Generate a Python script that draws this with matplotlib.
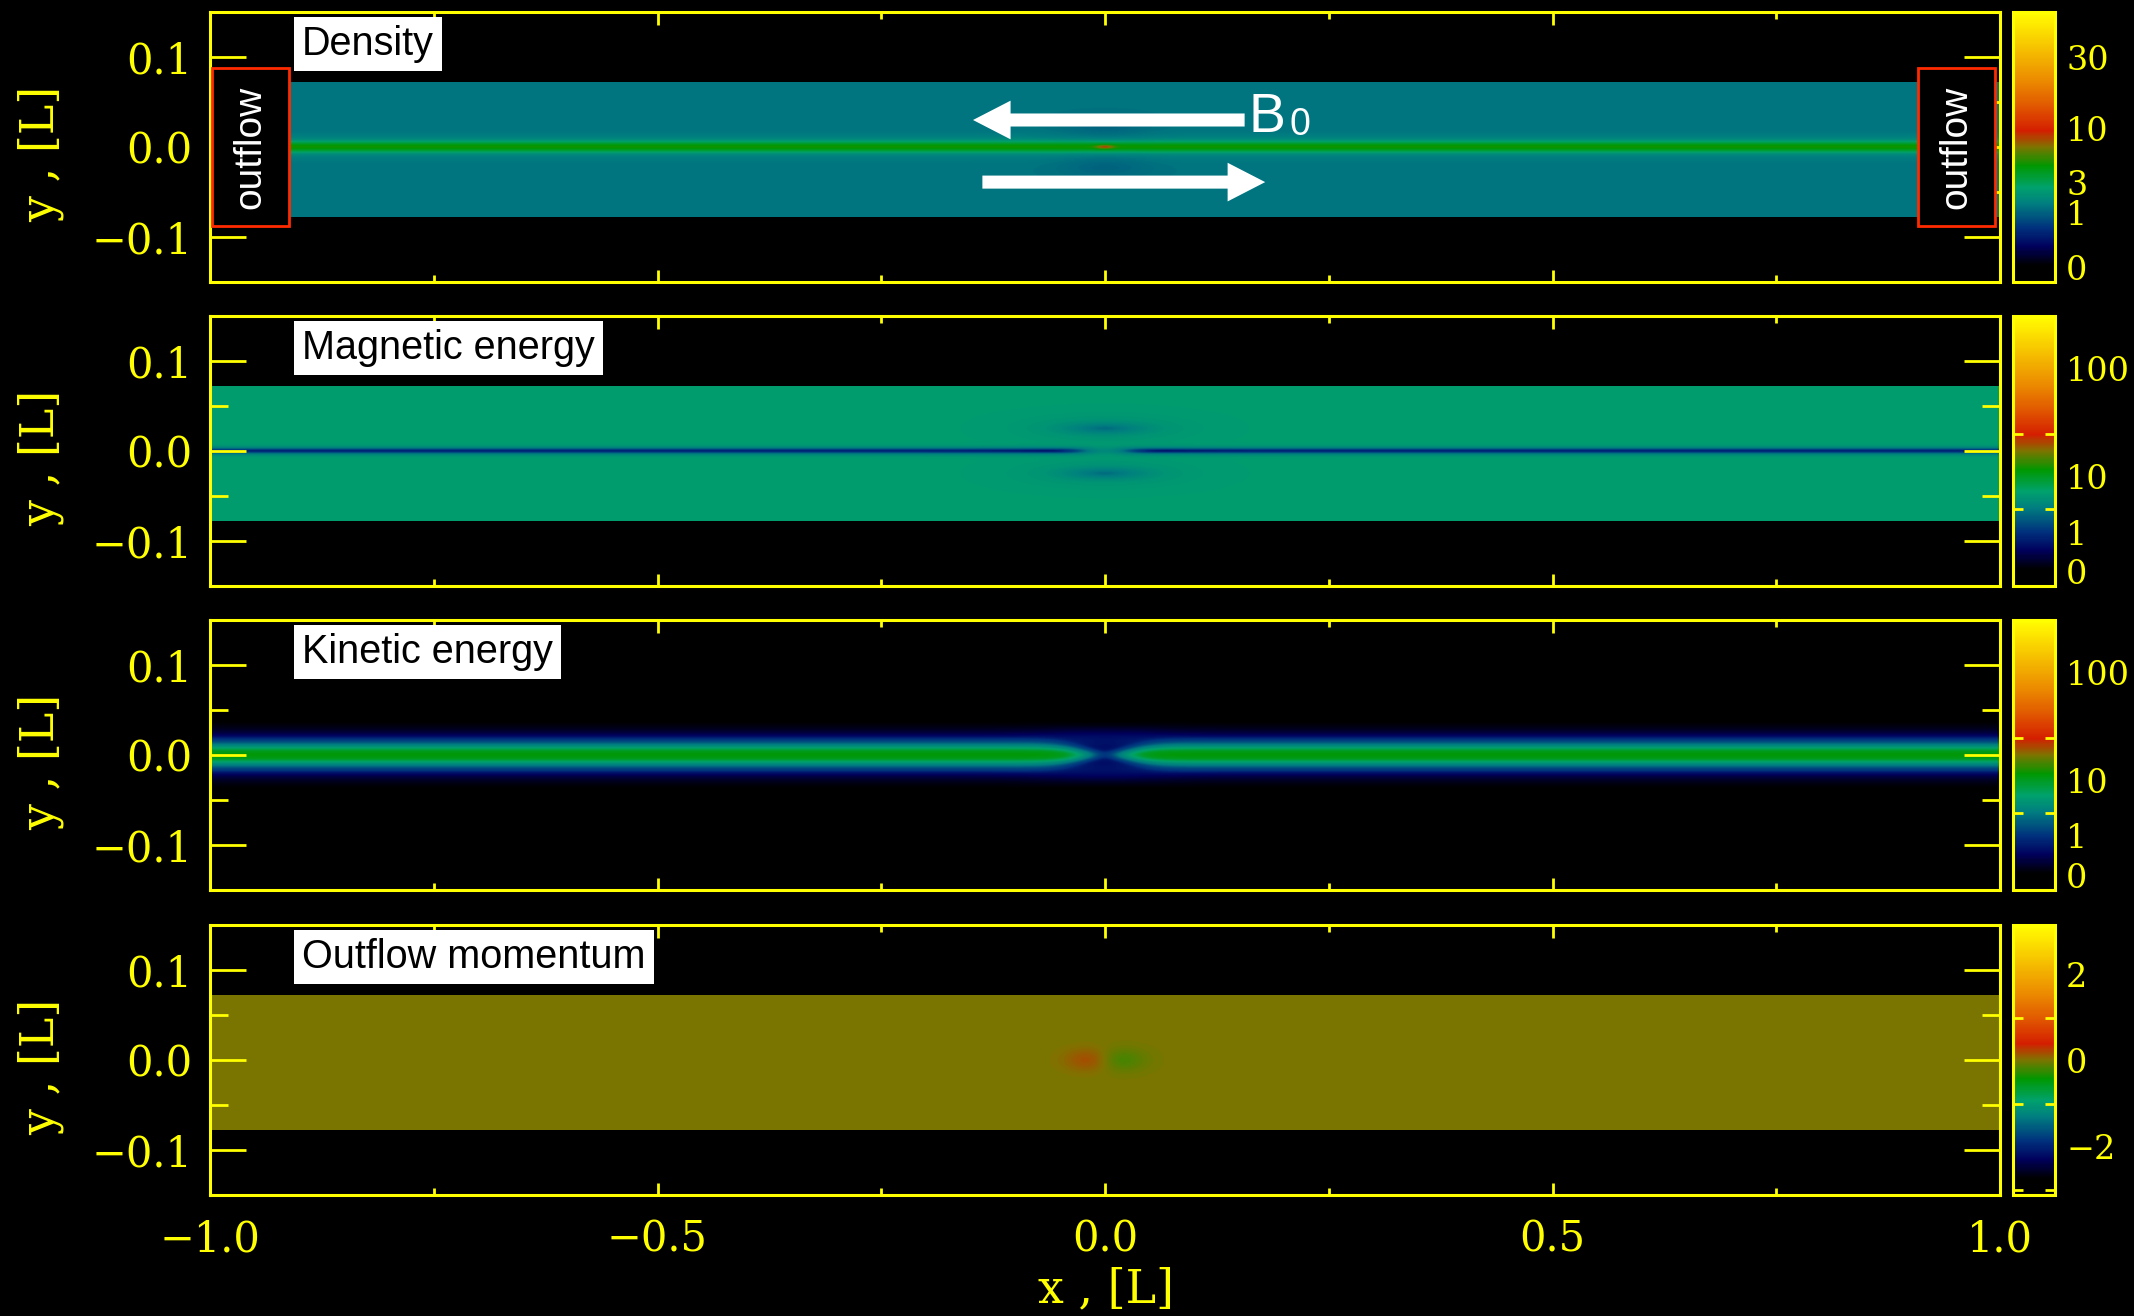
import numpy as np
import matplotlib
matplotlib.use("Agg")
import matplotlib.pyplot as plt
from matplotlib.colors import LinearSegmentedColormap, FuncNorm, Normalize
from matplotlib.patches import Rectangle, FancyArrow
from matplotlib.ticker import FuncFormatter

plt.rcParams["font.family"] = ["DejaVu Serif"]
YELLOW = "#ffff00"
LABEL_FONT = ["Liberation Sans", "DejaVu Sans"]

# ---- colour table (position along bar, RGB) ----
ctab_pos = [0.0, 0.06, 0.13, 0.20, 0.29, 0.35, 0.43, 0.50, 0.56, 0.66, 0.75, 0.82, 0.97, 1.0]
ctab_rgb = [(0, 0, 0), (0, 0, 0), (0, 0, 92), (0, 50, 125), (0, 126, 128), (0, 162, 108),
            (0, 152, 0), (126, 116, 0), (212, 30, 0), (226, 92, 0), (236, 140, 0),
            (242, 172, 0), (255, 240, 0), (255, 255, 0)]

# ---- colour-bar scales: value -> fraction of the bar ----
dens_levels = [-0.25, 0.0, 1.0, 3.0, 10.0, 30.0, 62.0]
dens_frac = [0.0, 0.052, 0.259, 0.37, 0.567, 0.83, 1.0]
ener_levels = [-0.25, 0.0, 1.0, 3.0, 10.0, 30.0, 100.0, 260.0]
ener_frac = [0.0, 0.052, 0.20, 0.284, 0.405, 0.562, 0.805, 1.0]
mom_range = (-3.12, 3.15)

dens_labels = [30, 10, 3, 1, 0]
dens_ticks = [30, 10, 3, 1]
ener_labels = [100, 10, 1, 0]
ener_ticks = [100, 30, 10, 3, 1]
mom_labels = [2, 0, -2]
mom_ticks = [2, 1, 0, -1, -2, -3]

panel_titles = ["Density", "Magnetic energy", "Kinetic energy", "Outflow momentum"]

# ---- simulation box ----
x_domain = (-1.0, 1.0)
y_domain = (-0.078, 0.072)

# current-sheet structure (levels in colour-bar units)
rho_background, rho_sheet, rho_sheet_w, rho_glow, rho_glow_w = 1.35, 3.4, 0.0035, 0.7, 0.008
rho_xpoint, rho_void = 3.5, -0.35
mag_background, mag_dip, mag_dip_w = 6.3, 5.5, 0.003
mag_lobe_dip, mag_halo_dip = 2.6, 1.0
kin_core, kin_core_w, kin_wing, kin_wing_w, kin_halo = 11.0, 0.0065, 1.5, 0.015, 0.4
mom_jet = 0.28

nx, ny = 1400, 320
x = np.linspace(*x_domain, nx)
y = np.linspace(*y_domain, ny)
X, Y = np.meshgrid(x, y)


def g(v, s):
    return np.exp(-0.5 * (v / s) ** 2)


near_x = g(X, 0.025)
density = (rho_background
           + rho_sheet * g(Y, rho_sheet_w) + rho_glow * g(Y, rho_glow_w)
           + rho_xpoint * g(X, 0.007) * g(Y, 0.0015)
           + rho_void * g(X, 0.035) * (g(Y - 0.022, 0.009) + g(Y + 0.022, 0.009)))

magnetic = (mag_background
            - mag_dip * (1 - 0.7 * g(X, 0.02)) * g(Y, mag_dip_w)
            - mag_lobe_dip * g(X, 0.032) * (g(Y - 0.025, 0.0045) + g(Y + 0.025, 0.0045))
            - mag_halo_dip * g(X, 0.07) * (g(Y - 0.025, 0.012) + g(Y + 0.025, 0.012)))

core_w = kin_core_w * (0.45 + 0.55 * (1 - g(X, 0.03)))
kinetic = (kin_core * (1 - 0.95 * near_x) * g(Y, core_w)
           + kin_wing * (1 - 0.6 * g(X, 0.04)) * g(Y, kin_wing_w)
           + kin_halo * g(X, 0.045) * (g(Y - 0.02, 0.008) + g(Y + 0.02, 0.008)))

momentum = -mom_jet * (X / 0.022) * g(X, 0.022) * g(Y, 0.009)

# ---- colour map and norms ----
cmap = LinearSegmentedColormap.from_list(
    "idl_sheet", list(zip(ctab_pos, [tuple(c / 255 for c in rgb) for rgb in ctab_rgb])))


def interp_norm(levels, frac):
    return FuncNorm((lambda v: np.interp(v, levels, frac),
                     lambda f: np.interp(f, frac, levels)),
                    vmin=levels[0], vmax=levels[-1])


norms = [interp_norm(dens_levels, dens_frac), interp_norm(ener_levels, ener_frac),
         interp_norm(ener_levels, ener_frac), Normalize(*mom_range)]
fields = [density, magnetic, kinetic, momentum]
cb_labels = [dens_labels, ener_labels, ener_labels, mom_labels]
cb_ticks = [dens_ticks, ener_ticks, ener_ticks, mom_ticks]

# ---- figure layout ----
W, H = 2134, 1316
fig = plt.figure(figsize=(W / 100, H / 100), dpi=100, facecolor="black")
tops = [12, 316, 620, 925]
ph = 270
TICK_FS = 30
CB_FS = 24
AXLAB_FS = 33


def num(v, pos=None):
    s = f"{abs(v):.1f}"
    return ("\u2212" + s) if v < -1e-9 else s


def intlab(v, pos=None):
    v = int(round(v))
    return ("\u2212" + str(abs(v))) if v < 0 else str(v)


for i in range(4):
    bottom = 1 - (tops[i] + ph) / H
    ax = fig.add_axes([210 / W, bottom, 1790 / W, ph / H])
    cax = fig.add_axes([2013 / W, bottom, 42 / W, ph / H])
    ax.set_facecolor("black")
    im = ax.imshow(fields[i], extent=[*x_domain, *y_domain], origin="lower", cmap=cmap,
                   norm=norms[i], aspect="auto", interpolation="bilinear", zorder=0)
    ax.set_xlim(-1, 1)
    ax.set_ylim(-0.15, 0.15)
    for sp in ax.spines.values():
        sp.set_color(YELLOW)
        sp.set_linewidth(2.2)
    ax.set_xticks([-1, -0.5, 0, 0.5, 1])
    ax.set_xticks(np.arange(-0.75, 1.0, 0.5), minor=True)
    ax.set_yticks([-0.1, 0, 0.1])
    ax.set_yticks([-0.05, 0.05], minor=True)
    ax.tick_params(axis="x", which="major", direction="in", length=9, width=2, color=YELLOW,
                   top=True, bottom=True, labelbottom=(i == 3), labelcolor=YELLOW,
                   labelsize=TICK_FS, pad=17)
    ax.tick_params(axis="x", which="minor", direction="in", length=5, width=2, color=YELLOW,
                   top=True, bottom=True)
    ax.tick_params(axis="y", which="major", direction="in", length=26, width=2, color=YELLOW,
                   left=True, right=True, labelcolor=YELLOW, labelsize=TICK_FS, pad=13)
    ax.tick_params(axis="y", which="minor", direction="in", length=13, width=2, color=YELLOW,
                   left=True, right=True)
    ax.xaxis.set_major_formatter(FuncFormatter(num))
    ax.yaxis.set_major_formatter(FuncFormatter(num))

    ax.text(-0.897, 0.114, panel_titles[i], family=LABEL_FONT, fontsize=28.5, color="black",
            ha="left", va="center", zorder=5,
            bbox=dict(boxstyle="square,pad=0.2", fc="white", ec="none"))

    fig.text(41 / W, 1 - (tops[i] + ph / 2 + 7) / H, "y , [L]", color=YELLOW,
             fontsize=AXLAB_FS, rotation=90, ha="center", va="center")

    cb = fig.colorbar(im, cax=cax)
    cb.outline.set_edgecolor(YELLOW)
    cb.outline.set_linewidth(2.2)
    cb.set_ticks(cb_labels[i])
    cax.yaxis.set_ticks(cb_ticks[i], minor=True)
    cax.yaxis.set_major_formatter(FuncFormatter(intlab))
    cax.tick_params(which="major", length=0, labelcolor=YELLOW, labelsize=CB_FS, pad=8,
                    left=False, right=True, labelright=True)
    cax.tick_params(which="minor", direction="in", length=7, width=2, color=YELLOW,
                    left=True, right=True)

    if i == 0:
        # outflow boundaries
        for x0 in (-0.998, 0.908):
            ax.add_patch(Rectangle((x0, -0.0878), 0.086, 0.1756, fc="black", ec="#ff2a00",
                                   lw=2, zorder=4))
            ax.text(x0 + 0.043, 0.0, "outflow", family=LABEL_FONT, fontsize=28,
                    color="white", rotation=90, ha="center", va="center", zorder=5)
        # anti-parallel field arrows
        ax.add_patch(FancyArrow(0.156, 0.030, -0.3035, 0, width=0.0145, head_width=0.043,
                                head_length=0.042, length_includes_head=True,
                                fc="white", ec="none", zorder=5))
        ax.add_patch(FancyArrow(-0.137, -0.039, 0.316, 0, width=0.0145, head_width=0.043,
                                head_length=0.042, length_includes_head=True,
                                fc="white", ec="none", zorder=5))
        ax.text(0.160, 0.0167, "B", family=LABEL_FONT, fontsize=40, color="white",
                ha="left", va="baseline", zorder=5)
        ax.text(0.2067, 0.0135, "0", family=LABEL_FONT, fontsize=27, color="white",
                ha="left", va="baseline", zorder=5)

fig.text(1106 / W, 1 - 1290 / H, "x , [L]", color=YELLOW, fontsize=AXLAB_FS, ha="center",
         va="center")

fig.savefig("out.png", dpi=100, facecolor="black")
